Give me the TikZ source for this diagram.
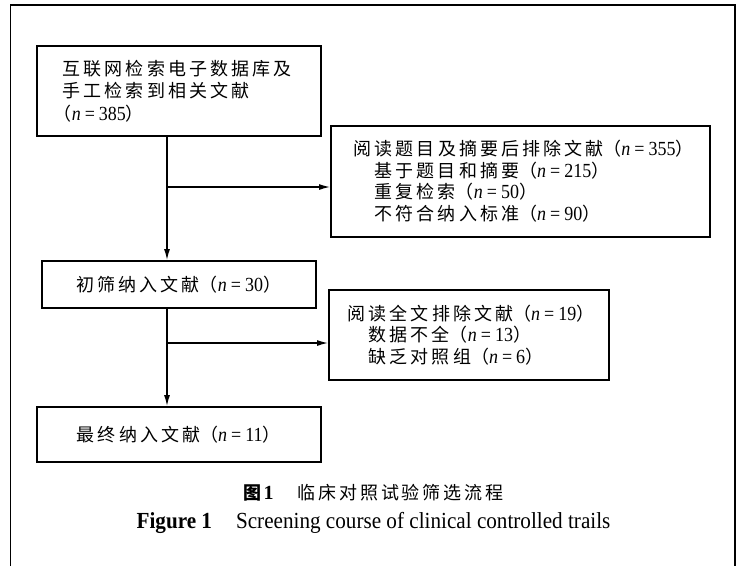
\documentclass[tikz,border=0pt]{standalone}
\usepackage{fontspec}
\setmainfont{Liberation Serif}
\newfontfamily\cjk[LetterSpace=17]{Noto Sans CJK SC}
\newfontfamily\cjkp{Noto Sans CJK SC}
\newfontfamily\cjkcap[LetterSpace=16]{Noto Sans CJK SC}
\newfontfamily\latn[FakeStretch=0.9]{Liberation Serif}
\newfontfamily\capfont[FakeStretch=0.92]{Liberation Serif}
\usetikzlibrary{arrows.meta}
\newcommand{\nval}[1]{\mbox{{\cjkp （}{\latn\fontsize{20}{21}\selectfont\itshape n\upshape\hspace{4pt}=\hspace{4pt}#1}{\cjkp ）}}}
\tikzset{
  boxnode/.style={draw, line width=1.6pt, rectangle, anchor=north west, inner ysep=0pt,
    font=\fontsize{18}{21.5}\selectfont},
  conn/.style={line width=1.3pt, -{Latex[length=11pt,width=6pt]}},
  frame/.style={line width=1.4pt}
}
\begin{document}
\begin{tikzpicture}[x=1pt,y=-1pt]
\useasboundingbox (0,0) rectangle (737,566);
% outer frame (open at bottom)
\draw[frame] (10.5,566) -- (10.5,5) -- (735,5) -- (735,566);

\node[boxnode, minimum width=284pt, minimum height=90pt, inner xsep=26pt, text width=232pt, align=left,
  font=\fontsize{18}{22.5}\selectfont] (b1) at (36,45)
  {{\cjk 互联网检索电子数据库及}\\{\cjk 手工检索到相关文献}\\\hspace*{-9pt}\nval{385}};

\node[boxnode, minimum width=379pt, minimum height=111pt, inner xsep=23pt, text width=333pt, align=left] (b2) at (330,125)
  {{\cjk 阅读题目及摘要后排除文献}\nval{355}\\
   \hspace*{21pt}{\cjk 基于题目和摘要}\nval{215}\\
   \hspace*{21pt}{\cjk 重复检索}\nval{50}\\
   \hspace*{21pt}{\cjk 不符合纳入标准}\nval{90}};

\node[boxnode, minimum width=274pt, minimum height=47pt, inner xsep=4pt, align=center] (b3) at (41,260)
  {{\cjk 初筛纳入文献}\nval{30}};

\node[boxnode, minimum width=280pt, minimum height=90pt, inner xsep=19pt, text width=242pt, align=left] (b4) at (328,289)
  {{\cjk 阅读全文排除文献}\nval{19}\\
   \hspace*{21pt}{\cjk 数据不全}\nval{13}\\
   \hspace*{21pt}{\cjk 缺乏对照组}\nval{6}};

\node[boxnode, minimum width=284pt, minimum height=55pt, inner xsep=4pt, align=center] (b5) at (36,406)
  {{\cjk 最终纳入文献}\nval{11}};

% trunk coordinates
\coordinate (t1) at (167,187);
\coordinate (t2) at (167,343);
\draw[conn] (b1.south -| t1) -- (b3.north -| t1);
\draw[conn] (t1) -- (t1 -| b2.west);
\draw[conn] (b3.south -| t2) -- (b5.north -| t2);
\draw[conn] (t2) -- (t2 -| b4.west);

% captions
\node[font=\fontsize{18}{22}\selectfont] (cap1) at (373.5,493)
  {{\cjkp\bfseries 图}\hspace{2pt}{\fontsize{20}{22}\selectfont\textbf{1}}\hspace{24pt}{\cjkcap 临床对照试验筛选流程}};
\node[font=\capfont\fontsize{23}{26}\selectfont] (cap2) at (373.5,523)
  {\textbf{Figure 1}\hspace{24pt}Screening course of clinical controlled trails};
\end{tikzpicture}
\end{document}
